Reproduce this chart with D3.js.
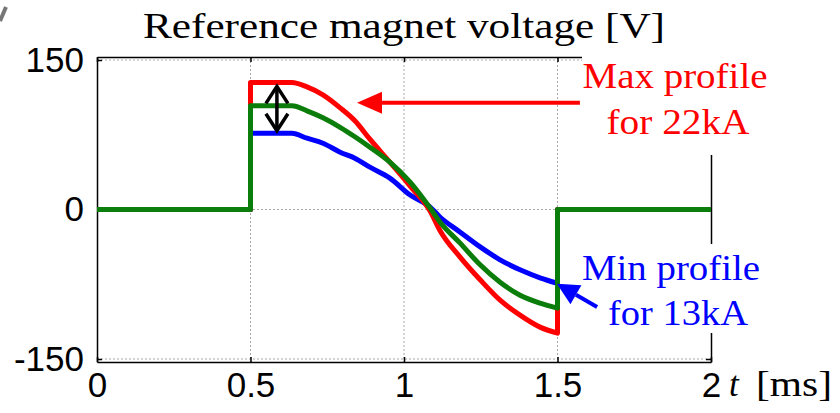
<!DOCTYPE html>
<html>
<head>
<meta charset="utf-8">
<script src="https://cdn.jsdelivr.net/npm/d3@7/dist/d3.min.js"></script>
<style>
body { margin: 0; background: #fff; }
svg { display: block; }
.sans { font-family: Arial, "Liberation Sans", Helvetica, sans-serif; }
.serif { font-family: "Times New Roman", "Liberation Serif", Times, serif; }
</style>
</head>
<body>
<svg id="chart" width="840" height="413"></svg>
<script>

// Pulse part of the profiles (t in ms, voltage in V)
var tPulse   = [0.5, 0.635, 0.684, 0.736, 0.792, 0.84, 0.889, 0.954, 1.02, 1.085, 1.117, 1.182, 1.248, 1.313, 1.378, 1.443, 1.5];
var maxVolts = [127.5, 127.5, 123, 115, 102, 89, 70.5, 47.5, 23.5, -1.5, -21, -47.5, -70.5, -91, -106, -118, -124];
var midVolts = [104, 104, 99, 92, 82.5, 73, 62.5, 47.5, 27.5, 1.5, -12.5, -33.5, -55.5, -73, -86, -94, -99];
var minVolts = [76.5, 76.5, 71.5, 66.5, 57.5, 51.5, 42.5, 31.5, 14.5, 2.5, -7.5, -22.5, -37.5, -50.5, -60.5, -68.5, -74];

var xTicks = [0, 0.5, 1, 1.5, 2];
var yTicks = [-150, 0, 150];

var svg = d3.select("#chart");

// scales
var x = d3.scaleLinear().domain([0, 2]).range([97, 711]);
var y = d3.scaleLinear().domain([-153, 153]).range([362, 57]);

// grid
svg.append("g").selectAll("line")
    .data(xTicks.slice(1, -1))
    .enter().append("line")
    .attr("x1", d => x(d)).attr("x2", d => x(d))
    .attr("y1", y.range()[1]).attr("y2", y.range()[0])
    .attr("stroke", "#a8a8a8").attr("stroke-width", 1)
    .attr("stroke-dasharray", "2,2");

svg.append("g").selectAll("line")
    .data(yTicks)
    .enter().append("line")
    .attr("x1", x(0)).attr("x2", x(2))
    .attr("y1", d => y(d)).attr("y2", d => y(d))
    .attr("stroke", "#a8a8a8").attr("stroke-width", 1)
    .attr("stroke-dasharray", "2,2");

// axes (ticks pointing inwards like the original)
svg.append("g")
    .attr("transform", "translate(" + x(0) + ",0)")
    .call(d3.axisLeft(y).tickValues(yTicks).tickSizeInner(-5).tickSizeOuter(0)
        .tickPadding(13).tickFormat(d => String(d)));

svg.append("g")
    .attr("transform", "translate(0," + y.range()[0] + ")")
    .call(d3.axisBottom(x).tickValues(xTicks).tickSizeInner(-5).tickSizeOuter(0)
        .tickPadding(10).tickFormat(d => String(d)));

svg.append("g")
    .attr("transform", "translate(" + x(2) + ",0)")
    .call(d3.axisRight(y).tickValues(yTicks).tickSizeInner(-5).tickSizeOuter(0).tickFormat(""));

svg.append("g")
    .attr("transform", "translate(0," + y.range()[1] + ")")
    .call(d3.axisTop(x).tickValues(xTicks).tickSizeInner(-5).tickSizeOuter(0).tickFormat(""));

svg.selectAll(".domain, .tick line")
    .attr("stroke", "#000")
    .attr("stroke-width", 1.5);

svg.selectAll("g").attr("font-family", null);

svg.selectAll(".tick text")
    .attr("class", "sans")
    .attr("fill", "#000")
    .attr("font-size", 35);

// profiles
var smooth = d3.line()
    .x(d => x(d[0]))
    .y(d => y(d[1]))
    .curve(d3.curveMonotoneX);

function profilePath(values) {
    var pts = tPulse.map((t, i) => [t, values[i]]);
    return "M" + x(0) + "," + y(0) + "L" + x(0.5) + "," + y(0) +
        "L" + smooth(pts).slice(1) +
        "L" + x(1.5) + "," + y(0) + "L" + x(2) + "," + y(0);
}

var series = [
    { values: minVolts, color: "#0000ff" },
    { values: maxVolts, color: "#ff0000" },
    { values: midVolts, color: "#0a7d0a" }
];

svg.append("g").selectAll("path")
    .data(series)
    .enter().append("path")
    .attr("d", d => profilePath(d.values))
    .attr("fill", "none")
    .attr("stroke", d => d.color)
    .attr("stroke-width", 5)
    .attr("stroke-linejoin", "round");

// white boxes behind the labels (they hide the frame)
svg.append("rect").attr("x", 582).attr("y", 45).attr("width", 258).attr("height", 110).attr("fill", "#fff");
svg.append("rect").attr("x", 575).attr("y", 244).attr("width", 265).attr("height", 89).attr("fill", "#fff");

// arrows
function arrow(t1, v1, t2, v2, color, headLen, headW) {
    var x1 = x(t1), y1 = y(v1), x2 = x(t2), y2 = y(v2);
    var a = Math.atan2(y2 - y1, x2 - x1);
    var bx = x2 - headLen * Math.cos(a), by = y2 - headLen * Math.sin(a);
    svg.append("line")
        .attr("x1", x1).attr("y1", y1).attr("x2", bx).attr("y2", by)
        .attr("stroke", color).attr("stroke-width", 4);
    var px = -Math.sin(a) * headW, py = Math.cos(a) * headW;
    svg.append("path")
        .attr("d", "M" + x2 + "," + y2 + "L" + (bx + px) + "," + (by + py) + "L" + (bx - px) + "," + (by - py) + "Z")
        .attr("fill", color);
}

arrow(1.573, 107, 0.847, 107, "#ff0000", 25, 11);
arrow(1.629, -97.8, 1.498, -74.5, "#0000ff", 22, 11);

// double arrow between max and min plateau
var dx = x(0.586), dTop = y(123.5), dBot = y(79);
svg.append("line")
    .attr("x1", dx).attr("x2", dx).attr("y1", dTop).attr("y2", dBot)
    .attr("stroke", "#000").attr("stroke-width", 3.5);
svg.append("path")
    .attr("d", "M" + (dx - 11) + "," + (dTop + 17) + "L" + dx + "," + dTop + "L" + (dx + 11) + "," + (dTop + 17) +
        "M" + (dx - 11) + "," + (dBot - 17) + "L" + dx + "," + dBot + "L" + (dx + 11) + "," + (dBot - 17))
    .attr("fill", "none").attr("stroke", "#000").attr("stroke-width", 3.5);

// texts
function label(txt, cx, base, color, size, width, anchor, italic) {
    var t = svg.append("text")
        .attr("class", "serif")
        .attr("x", cx).attr("y", base)
        .attr("text-anchor", anchor || "middle")
        .attr("fill", color)
        .attr("font-size", size)
        .attr("font-style", italic ? "italic" : "normal")
        .text(txt);
    if (width) t.attr("textLength", width).attr("lengthAdjust", "spacingAndGlyphs");
    return t;
}

label("Reference magnet voltage [V]", 404, 38, "#000", 35, 522);
label("Max profile", 675, 88, "#ff0000", 35, 185);
label("for 22kA", 678, 134, "#ff0000", 35, 143);
label("Min profile", 671, 280, "#0000ff", 35, 178);
label("for 13kA", 678, 325, "#0000ff", 35, 140);
label("t", 729, 396, "#000", 35, null, "start", true);
label("[ms]", 756, 396, "#000", 35, 76, "start");

// clipped mark in the top-left corner
svg.append("path")
    .attr("d", "M0,21L6,7")
    .attr("stroke", "#555").attr("stroke-width", 4).attr("opacity", 0.8);

</script>
</body>
</html>
